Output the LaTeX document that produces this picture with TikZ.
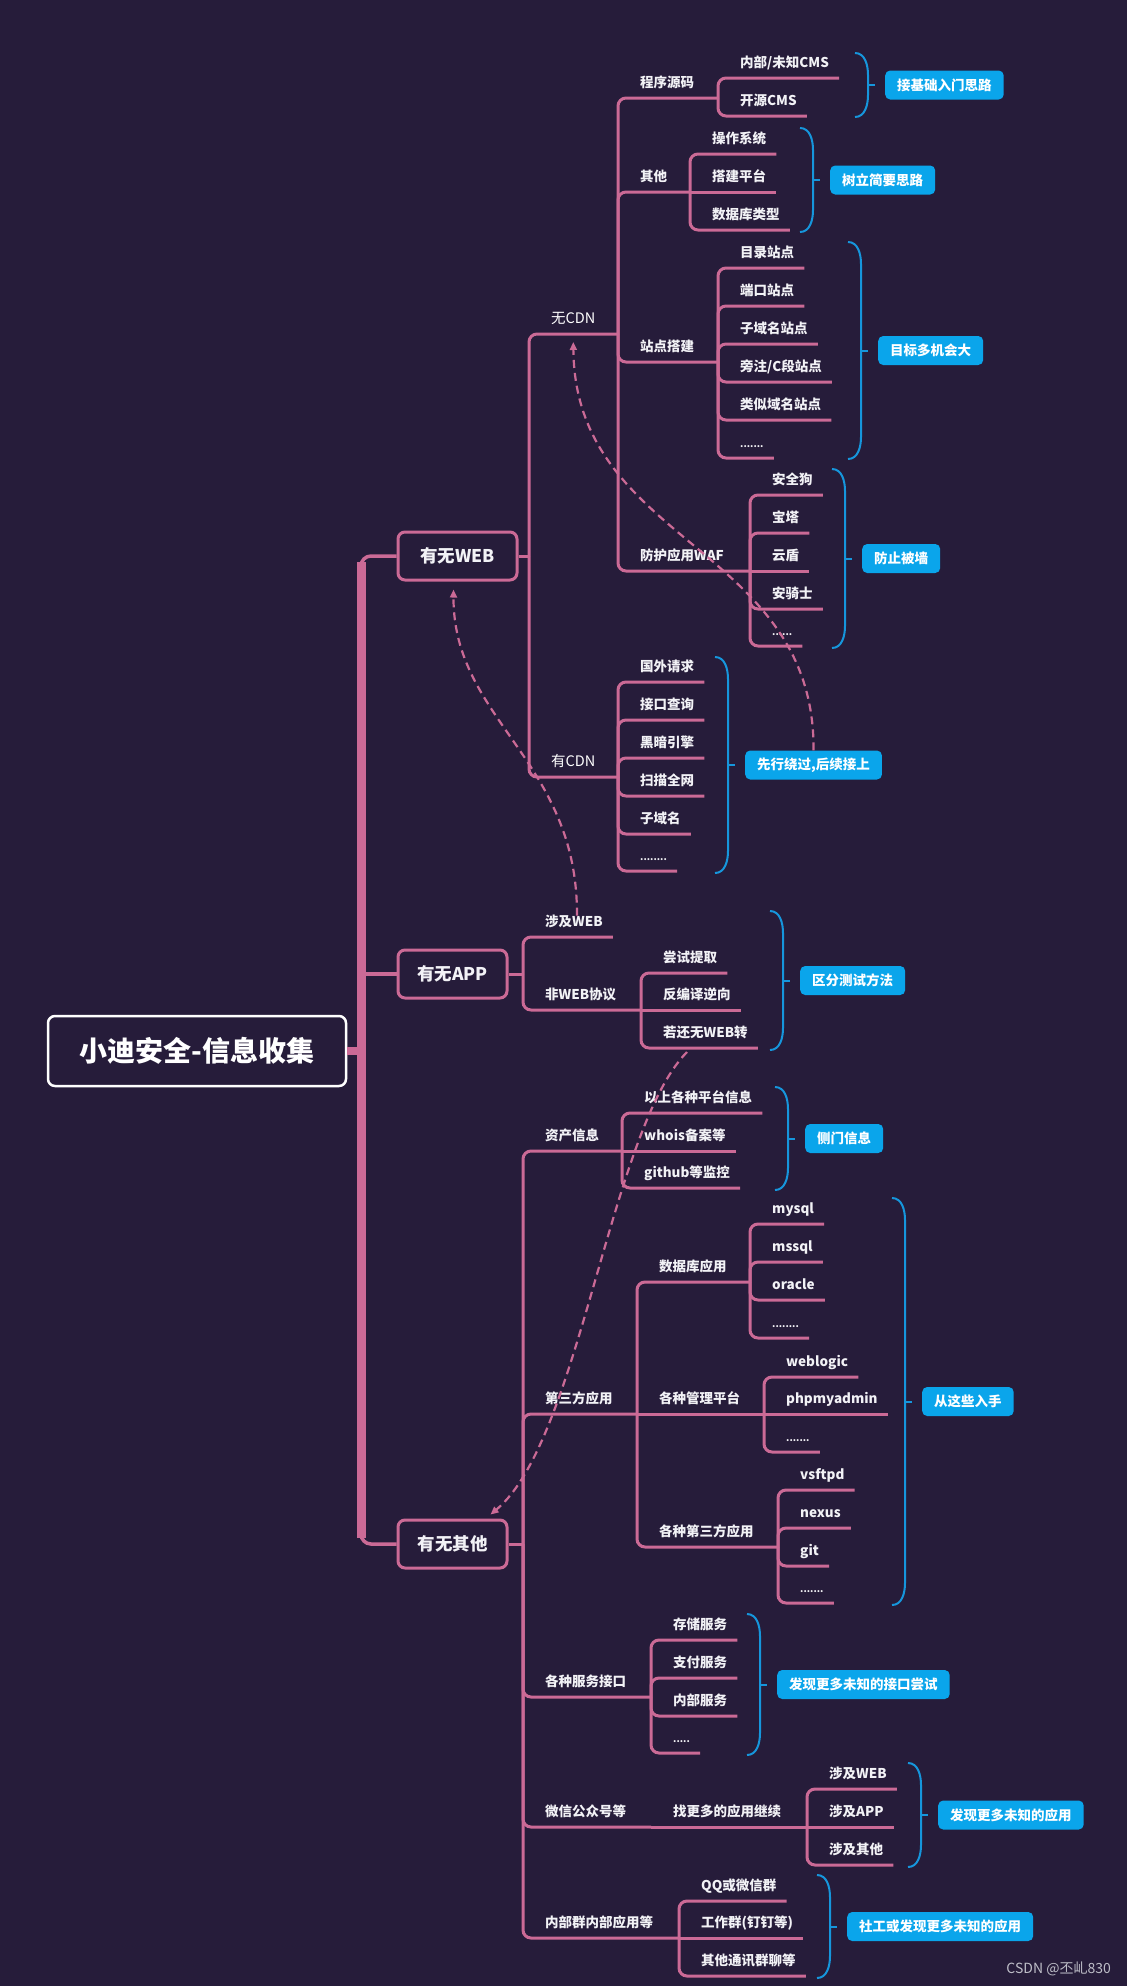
\documentclass[tikz,border=0pt]{standalone}
\usepackage{fontspec}
\setmainfont{Noto Sans CJK SC}
\usetikzlibrary{arrows.meta}
\definecolor{bgc}{RGB}{38,28,58}
\definecolor{pinkc}{RGB}{203,106,150}
\definecolor{bluef}{RGB}{10,165,235}
\definecolor{bluel}{RGB}{22,150,220}
\definecolor{txtc}{RGB}{242,242,246}
\definecolor{wmc}{RGB}{190,190,200}

\tikzset{
 pnk/.style={draw=pinkc, line width=3pt, rounded corners=8pt},
 lbl/.style={anchor=south west, inner xsep=0pt, inner ysep=0pt, text height=11pt, text depth=10pt,
   font=\bfseries\fontsize{13.5}{14}\selectfont, text=txtc},
 blu/.style={draw=bluel, line width=2pt},
 tagbox/.style={fill=bluef, rounded corners=5pt, text=white, font=\bfseries\fontsize{13.5}{14}\selectfont,
   minimum height=29pt, inner xsep=12pt, inner ysep=0pt},
 lvone/.style={draw=pinkc, line width=3pt, rounded corners=7pt, fill=bgc, text=txtc,
   font=\bfseries\fontsize{17.5}{18}\selectfont, minimum height=48pt, inner sep=0pt},
 rootbox/.style={draw=white, line width=2.5pt, rounded corners=7pt, fill=bgc, text=white,
   font=\bfseries\fontsize{28}{30}\selectfont, minimum width=298pt, minimum height=70pt, inner sep=0pt},
 dsh/.style={draw=pinkc, line width=2.2pt, dash pattern=on 8pt off 5pt, -{Triangle[length=8pt,width=7pt]}},
}

\newcommand\dotsfont{\fontsize{9.5}{10}\selectfont}
% leaf with elbow
\newcommand\lf[5]{\node[lbl] (#2) at (#3,#4) {#5};
  \draw[pnk] (#1) |- (#2.south west) -- ([xshift=10pt]#2.south east);}
% leaf in line with parent
\newcommand\lfm[5]{\node[lbl] (#2) at (#3,#4) {#5};
  \draw[pnk] (#1) -- ([xshift=10pt]#2.south east);}
% branch with elbow
\newcommand\br[6]{\node[lbl] (#2) at (#3,#4) {#5};
  \coordinate (#2-j) at (#6,#4);
  \draw[pnk] (#1) |- (#2.south west) -- (#2-j);}
% branch in line with parent
\newcommand\brm[6]{\node[lbl] (#2) at (#3,#4) {#5};
  \coordinate (#2-j) at (#6,#4);
  \draw[pnk] (#1) -- (#2-j);}
% bracket with label
\newcommand\tagbr[5]{%
  \draw[blu] (#2,#3) to[out=0,in=90] ({#2+13},{#3+22}) -- ({#2+13},{#4-22}) to[out=-90,in=0] (#2,#4);
  \coordinate (#1-m) at ({#2+13},{(#3+#4)/2});
  \draw[blu] (#1-m) -- ++(7,0);
  \node[tagbox, anchor=west] (#1) at ({#2+30},{(#3+#4)/2}) {#5};}

\begin{document}
\begin{tikzpicture}[x=1pt,y=-1pt]
\fill[bgc] (0,0) rectangle (1127,1986);
\useasboundingbox (0,0) rectangle (1127,1986);

% root and first level
\node[rootbox] (root) at (197,1051) {小迪安全-信息收集};
\node[lvone, minimum width=119pt] (web) at (457.5,556) {有无WEB};
\node[lvone, minimum width=109pt] (app) at (452.5,974) {有无APP};
\node[lvone, minimum width=109pt] (oth) at (452.5,1544) {有无其他};

\coordinate (tr-mid) at (361,1051);
\coordinate (tr-top) at (361,600);
\coordinate (tr-bot) at (361,1500);
\draw[draw=pinkc, line width=9pt] (361,562) -- (361,1538);
\draw[draw=pinkc, line width=8pt] (root.east) -- (tr-mid);
\draw[pnk, line width=3.5pt, rounded corners=10pt] (tr-top) |- (web.west);
\draw[pnk, line width=3.5pt, rounded corners=10pt] (tr-bot) |- (oth.west);
\draw[pnk, line width=3.5pt] (app.west -| tr-mid) -- (app.west);

% ===== 有无WEB =====
\coordinate (web-j) at (529,556);
\draw[pnk] (web.east) -- (web-j);

\node[lbl, font=\fontsize{14.5}{15}\selectfont, text=white] (nocdn) at (551,334) {无CDN};
\coordinate (nocdn-j) at (618,334);
\draw[pnk] (web-j) |- (nocdn.south west) -- (nocdn-j);

\br{nocdn-j}{src}{640}{98}{程序源码}{718}
\lf{src-j}{cmsa}{740}{78}{内部/未知CMS}
\lf{src-j}{cmsb}{740}{116}{开源CMS}

\br{nocdn-j}{othw}{640}{192}{其他}{690}
\lf{othw-j}{os}{712}{154}{操作系统}
\lfm{othw-j}{plat}{712}{192}{搭建平台}
\lf{othw-j}{dbt}{712}{230}{数据库类型}

\br{nocdn-j}{site}{640}{362}{站点搭建}{718}
\lf{site-j}{sa}{740}{268}{目录站点}
\lf{site-j}{sb}{740}{306}{端口站点}
\lf{site-j}{sc}{740}{344}{子域名站点}
\lf{site-j}{sd}{740}{382}{旁注/C段站点}
\lf{site-j}{se}{740}{420}{类似域名站点}
\lf{site-j}{sf}{740}{458}{\dotsfont .......}

\br{nocdn-j}{waf}{640}{571}{防护应用WAF}{750}
\lf{waf-j}{wa}{772}{495}{安全狗}
\lf{waf-j}{wb}{772}{533}{宝塔}
\lfm{waf-j}{wc}{772}{571}{云盾}
\lf{waf-j}{wd}{772}{609}{安骑士}
\lf{waf-j}{we}{772}{646}{\dotsfont ......}

\node[lbl, font=\fontsize{14.5}{15}\selectfont, text=white] (cdn) at (551,777) {有CDN};
\coordinate (cdn-j) at (618,777);
\draw[pnk] (web-j) |- (cdn.south west) -- (cdn-j);
\lf{cdn-j}{ca}{640}{682}{国外请求}
\lf{cdn-j}{cb}{640}{720}{接口查询}
\lf{cdn-j}{cc}{640}{758}{黑暗引擎}
\lf{cdn-j}{cd}{640}{796}{扫描全网}
\lf{cdn-j}{ce}{640}{834}{子域名}
\lf{cdn-j}{cf}{640}{871}{\dotsfont ........}

\tagbr{ta}{855}{53}{117}{接基础入门思路}
\tagbr{tb}{800}{128}{232}{树立简要思路}
\tagbr{tc}{848}{242}{459}{目标多机会大}
\tagbr{td}{832}{469}{648}{防止被墙}
\tagbr{te}{715}{657}{873}{先行绕过,后续接上}

% ===== 有无APP =====
\coordinate (app-j) at (523,974);
\draw[pnk] (app.east) -- (app-j);
\lf{app-j}{aweb}{545}{937}{涉及WEB}
\br{app-j}{nonweb}{545}{1010}{非WEB协议}{641}
\lf{nonweb-j}{aa}{663}{973}{尝试提取}
\lfm{nonweb-j}{ab}{663}{1010}{反编译逆向}
\lf{nonweb-j}{ac}{663}{1048}{若还无WEB转}
\tagbr{tf}{770}{911}{1050}{区分测试方法}

% ===== 有无其他 =====
\coordinate (oth-j) at (523,1544);
\draw[pnk] (oth.east) -- (oth-j);

\br{oth-j}{asset}{545}{1151}{资产信息}{622}
\lf{asset-j}{ra}{644}{1113}{以上各种平台信息}
\lfm{asset-j}{rb}{644}{1151}{whois备案等}
\lf{asset-j}{rc}{644}{1188}{github等监控}
\tagbr{tg}{775}{1087}{1190}{侧门信息}

\br{oth-j}{third}{545}{1414}{第三方应用}{637}
\br{third-j}{db}{659}{1282}{数据库应用}{750}
\lf{db-j}{da}{772}{1224}{mysql}
\lf{db-j}{dbb}{772}{1262}{mssql}
\lf{db-j}{dc}{772}{1300}{oracle}
\lf{db-j}{dd}{772}{1338}{\dotsfont ........}
\brm{third-j}{mgmt}{659}{1414}{各种管理平台}{764}
\lf{mgmt-j}{ma}{786}{1377}{weblogic}
\lfm{mgmt-j}{mb}{786}{1414}{phpmyadmin}
\lf{mgmt-j}{mc}{786}{1452}{\dotsfont .......}
\br{third-j}{tapp}{659}{1547}{各种第三方应用}{778}
\lf{tapp-j}{pa}{800}{1490}{vsftpd}
\lf{tapp-j}{pb}{800}{1528}{nexus}
\lf{tapp-j}{pc}{800}{1566}{git}
\lf{tapp-j}{pd}{800}{1603}{\dotsfont .......}
\tagbr{th}{892}{1198}{1605}{从这些入手}

\br{oth-j}{svc}{545}{1697}{各种服务接口}{651}
\lf{svc-j}{va}{673}{1640}{存储服务}
\lf{svc-j}{vb}{673}{1678}{支付服务}
\lf{svc-j}{vc}{673}{1716}{内部服务}
\lf{svc-j}{vd}{673}{1753}{\dotsfont .....}
\tagbr{ti}{747}{1614}{1755}{发现更多未知的接口尝试}

\br{oth-j}{wx}{545}{1827}{微信公众号等}{651}
\brm{wx-j}{more}{673}{1827}{找更多的应用继续}{807}
\lf{more-j}{xa}{829}{1789}{涉及WEB}
\lfm{more-j}{xb}{829}{1827}{涉及APP}
\lf{more-j}{xc}{829}{1865}{涉及其他}
\tagbr{tj}{908}{1763}{1867}{发现更多未知的应用}

\br{oth-j}{grp}{545}{1938}{内部群内部应用等}{679}
\lf{grp-j}{ga}{701}{1901}{QQ或微信群}
\lfm{grp-j}{gb}{701}{1938}{工作群(钉钉等)}
\lf{grp-j}{gc}{701}{1976}{其他通讯群聊等}
\tagbr{tk}{817}{1875}{1978}{社工或发现更多未知的应用}

% ===== dashed relations =====
\draw[dsh] (te.north) .. controls (815,545) and (575,545) .. ([yshift=-8pt]nocdn.south);
\draw[dsh] ([xshift=3pt]aweb.north) .. controls (578,760) and (453,720) .. ([shift={(-4pt,-8pt)}]web.south);
\draw[dsh] ([shift={(24pt,-4pt)}]ac.south west) .. controls (610,1130) and (580,1440) .. ([shift={(-18pt,4pt)}]oth.north east);

% watermark
\node[anchor=base east, inner sep=0pt, text=wmc, font=\fontsize{14}{15}\selectfont] (wm) at (1111,1973) {CSDN @丕乢830};
\end{tikzpicture}
\end{document}
